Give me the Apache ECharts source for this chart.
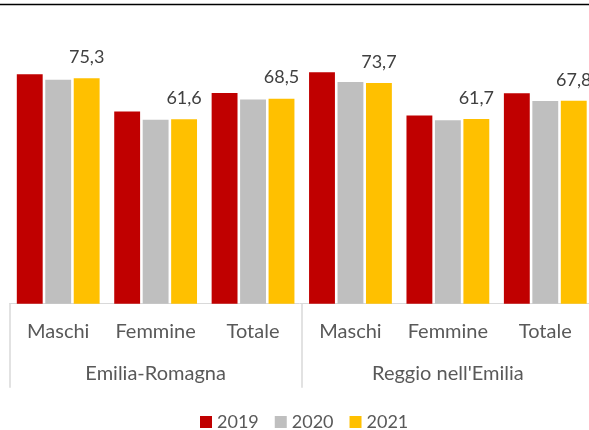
<!DOCTYPE html>
<html>
<head>
<meta charset="utf-8">
<script src="https://cdn.jsdelivr.net/npm/echarts@6/dist/echarts.min.js"></script>
<style>
  html, body { margin: 0; padding: 0; background: #fff; }
  #chart { width: 589px; height: 430px; }
</style>
</head>
<body>
<div id="chart"></div>
<script>
  // categorie (sesso) e gruppi (territorio)
  var categories = ['Maschi', 'Femmine', 'Totale', 'Maschi', 'Femmine', 'Totale']
  var groups = ['Emilia-Romagna', "Reggio nell'Emilia"]
  var years = ['2019', '2020', '2021']

  // valori
  var values2019 = [76.7, 64.2, 70.4, 77.3, 62.9, 70.3]
  var values2020 = [74.8, 61.5, 68.2, 74.1, 61.3, 67.7]
  var values2021 = [75.3, 61.6, 68.5, 73.7, 61.7, 67.8]

  var colors = ['#C00000', '#BFBFBF', '#FFC000']
  var font = 'Lato'

  var chart = echarts.init(document.getElementById('chart'))

  function serie (name, data, idx, withLabel) {
    return {
      name: name,
      type: 'bar',
      data: data,
      barGap: '10%',
      barCategoryGap: '15%',
      itemStyle: { color: colors[idx] },
      label: {
        show: withLabel,
        position: 'top',
        distance: 12,
        color: '#404040',
        fontSize: 18,
        fontFamily: font,
        formatter: function (p) {
          return p.value.toFixed(1).replace('.', ',')
        }
      }
    }
  }

  var option = {
    animation: false,
    // il grafico originale è tagliato a destra: la griglia esce dal bordo
    grid: {
      left: 9.5,
      width: 584.5,
      top: 4.4,
      height: 299.3,
      containLabel: false,
      outerBoundsMode: 'none'
    },
    legend: {
      left: 195,
      top: 408,
      itemWidth: 12,
      itemHeight: 12,
      itemGap: 16,
      icon: 'rect',
      textStyle: { color: '#595959', fontSize: 18, fontFamily: font },
      data: years
    },
    xAxis: [{
      type: 'category',
      data: categories,
      position: 'bottom',
      axisLine: { show: true, lineStyle: { color: '#D9D9D9', width: 1 } },
      axisTick: { show: false },
      axisLabel: {
        color: '#595959',
        fontSize: 20,
        fontFamily: font,
        margin: 18,
        interval: 0
      }
    }, {
      type: 'category',
      data: groups,
      position: 'bottom',
      axisLine: { show: false },
      axisTick: {
        show: true,
        length: 84,
        lineStyle: { color: '#D9D9D9', width: 1.5 }
      },
      axisLabel: {
        color: '#595959',
        fontSize: 20,
        fontFamily: font,
        margin: 60,
        interval: 0
      }
    }],
    yAxis: {
      type: 'value',
      min: 0,
      max: 100,
      show: false
    },
    graphic: [{
      type: 'line',
      shape: { x1: 0, y1: 4.5, x2: 589, y2: 4.5 },
      style: { stroke: '#000', lineWidth: 1.5 }
    }],
    series: [
      serie(years[0], values2019, 0, false),
      serie(years[1], values2020, 1, false),
      serie(years[2], values2021, 2, true)
    ]
  }

  chart.setOption(option)
</script>
</body>
</html>
